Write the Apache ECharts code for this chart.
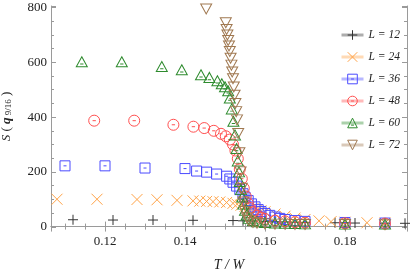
<!DOCTYPE html>
<html><head><meta charset="utf-8">
<script src="https://cdn.jsdelivr.net/npm/echarts@6/dist/echarts.min.js"></script>
<style>html,body{margin:0;padding:0;background:#fff}#c{width:415px;height:273px}</style>
</head><body><div id="c"></div>
<script>
const names = ['L = 12','L = 24','L = 36','L = 48','L = 60','L = 72'];
const T12 = [0.112,0.122,0.132,0.142,0.152,0.1545,0.157,0.160,0.1625,0.165,0.1675,0.170,0.1775,0.180,0.1825,0.190,0.195];
const S12 = [25,24,24,23,22,21,20,19,18,17,16,15,14,14,13,12,12];
const T24 = [0.108,0.118,0.128,0.133,0.138,0.142,0.1437,0.1454,0.147,0.1487,0.1504,0.152,0.153,0.154,0.155,0.156,0.157,0.158,0.159,0.160,0.1625,0.165,0.1675,0.170,0.1735,0.1765,0.180,0.1855,0.190];
const S24 = [100,100,99,98,96,94,93,92,91,90,88,85,82,78,74,70,66,62,58,54,46,38,31,26,21,18,16,14,13];
const T36 = [0.110,0.120,0.130,0.140,0.1429,0.1454,0.1479,0.1504,0.1512,0.152,0.1529,0.1537,0.1545,0.155,0.1558,0.1566,0.1575,0.1583,0.159,0.160,0.1612,0.1625,0.1637,0.165,0.1675,0.170,0.180,0.190];
const S36 = [222,222,214,212,203,199,192,184,174,162,148,135,120,108,95,83,72,62,55,48,41,35,30,26,22,19,15,13];
const T48 = [0.1173,0.1273,0.1371,0.1421,0.1448,0.1472,0.149,0.1502,0.1512,0.152,0.1526,0.1532,0.1537,0.1542,0.1547,0.1552,0.1557,0.1562,0.157,0.158,0.159,0.160,0.1625,0.165,0.1675,0.170,0.180,0.190];
const S48 = [387,387,372,365,360,350,339,330,318,300,278,248,210,175,140,110,85,68,52,40,33,28,22,19,16,14,12,11];
const T60 = [0.1142,0.1242,0.1342,0.1392,0.144,0.1461,0.1481,0.1492,0.150,0.1508,0.1512,0.1517,0.1521,0.1525,0.1529,0.1532,0.1535,0.1537,0.154,0.1543,0.1546,0.155,0.1554,0.156,0.157,0.158,0.160,0.1625,0.165,0.1675,0.170,0.180,0.190];
const S60 = [602,602,585,573,555,545,533,522,511,496,470,430,385,335,285,240,200,165,135,108,82,60,42,30,22,18,15,13,12,11,10,9,9];
const T72 = [0.1453,0.1502,0.1504,0.1506,0.1508,0.151,0.1512,0.1514,0.1516,0.1518,0.152,0.1522,0.1524,0.1526,0.1528,0.153,0.1533,0.1536,0.1539,0.1542,0.1546,0.155,0.1555,0.156,0.157,0.158,0.160,0.1625,0.165,0.1675,0.170,0.180,0.190];
const S72 = [795,745,720,700,680,660,640,615,590,565,540,510,480,450,420,390,340,270,200,140,90,55,32,22,15,12,10,9,9,8,8,8,7];

const Ts = [T12,T24,T36,T48,T60,T72];
const Ss = [S12,S24,S36,S48,S60,S72];
const colors = ['#333333','#ffa347','#4b4bff','#ff5050','#2e8b2e','#a07850'];
const symbols = [
  'path://M0,5L10,5M5,0L5,10',
  'path://M0,0L10,10M10,0L0,10',
  'path://M0,0L10,0L10,10L0,10Z M3.5,5L6.5,5',
  'path://M0,5A5,5,0,1,1,10,5A5,5,0,1,1,0,5Z M3.5,5L6.5,5',
  'path://M5,0L10,9L0,9Z M3.5,6.5L6.5,6.5',
  'path://M0,0L10,0L5,9Z'
];
const sizes = [[10,10],[11,11],[10,10],[11,11],[11,10],[11,10]];

const serif = 'Liberation Serif';
const chart = echarts.init(document.getElementById('c'), null, {renderer:'canvas'});
const series = names.map((n,i)=>({
  name:n, type:'line', xAxisIndex:0, yAxisIndex:0,
  data: Ts[i].map((t,k)=>[t, Ss[i][k]]),
  symbol: symbols[i], symbolSize: sizes[i], showAllSymbol:true,
  lineStyle:{opacity:0, width:0},
  itemStyle:{color:'transparent', borderColor:colors[i], borderWidth:1},
  emphasis:{disabled:true}, animation:false, z: 2+i
}));
const axisCol = '#9a9a9a';
const xCommon = {type:'value', min:0.1065, max:0.1955, gridIndex:0,
  axisLine:{lineStyle:{color:axisCol}}, splitLine:{show:false},
  axisTick:{inside:true, length:5, lineStyle:{color:axisCol}},
  minorTick:{show:true, splitNumber:4, length:3, lineStyle:{color:axisCol}},
  minorSplitLine:{show:false}};
const yCommon = {type:'value', min:-1.5, max:806, gridIndex:0,
  axisLine:{lineStyle:{color:axisCol}}, splitLine:{show:false},
  axisTick:{inside:true, length:5, lineStyle:{color:axisCol}},
  minorTick:{show:true, splitNumber:4, length:3, lineStyle:{color:axisCol}},
  minorSplitLine:{show:false}};
chart.setOption({
  animation:false,
  backgroundColor:'#fff',
  grid:{left:51, right:8, top:6, bottom:46, containLabel:false, outerBoundsMode:'none'},
  legend:{
    orient:'vertical', left:335, top:24, itemWidth:22, itemHeight:12, itemGap:10,
    textStyle:{fontFamily:serif, fontStyle:'italic', fontSize:11.5, color:'#222'},
    data: names.map((n,i)=>({name:n,
      lineStyle:{color:colors[i], width:3, opacity:0.4},
      itemStyle:{color:'transparent', borderColor:colors[i], borderWidth:1}})),
    selectedMode:false
  },
  xAxis:[
    Object.assign({}, xCommon, {position:'bottom',
      name:'T / W', nameLocation:'middle', nameGap:31,
      nameTextStyle:{fontFamily:serif, fontStyle:'italic', fontSize:14, color:'#222'},
      axisLabel:{fontFamily:serif, fontSize:13, color:'#222', margin:8, showMinLabel:false, showMaxLabel:false}}),
    Object.assign({}, xCommon, {position:'top', axisLabel:{show:false}})
  ],
  yAxis:[
    Object.assign({}, yCommon, {position:'left',
      name:'{i|S} ( {b|q}{s| 9/16} )', nameLocation:'middle', nameGap:38, nameRotate:90,
      nameTextStyle:{fontFamily:serif, fontSize:13, color:'#222',
        rich:{i:{fontFamily:serif, fontStyle:'italic', fontSize:13, color:'#222'},
              b:{fontFamily:serif, fontStyle:'italic', fontWeight:'bold', fontSize:13, color:'#222'},
              s:{fontFamily:serif, fontSize:9, color:'#222', verticalAlign:'bottom', padding:[4,0,0,0]}}},
      axisLabel:{fontFamily:serif, fontSize:13, color:'#222', margin:4, showMinLabel:false, showMaxLabel:false}}),
    Object.assign({}, yCommon, {position:'right', axisLabel:{show:false}})
  ],
  series: series
});
</script></body></html>
